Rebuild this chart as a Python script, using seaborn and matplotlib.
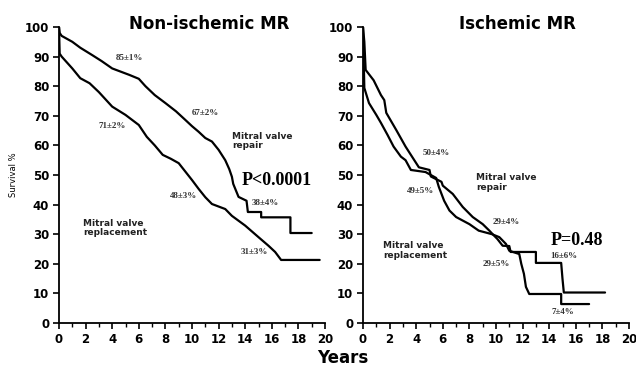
import numpy as np
import pandas as pd
import matplotlib
matplotlib.use("Agg")
import matplotlib.pyplot as plt
import seaborn as sns
from matplotlib.ticker import MultipleLocator

# Non-ischemic MR: survival curves
non_rep_t = [0, 0.05, 0.2, 1.0, 1.6, 2.5, 3.2, 4.0, 5.3, 6.0, 6.5, 7.2, 8.0, 8.8, 9.5, 10.0,
             10.5, 11.0, 11.5, 12.0, 12.5, 12.8, 13.0, 13.1, 13.5, 14.1, 14.2, 15.2, 15.2,
             17.4, 17.4, 19.0]
non_rep_v = [100, 98, 97, 95, 93, 90.5, 88.5, 86, 83.8, 82.5, 80, 77, 74.3, 71.5, 68.6, 66.5,
             64.6, 62.5, 61.3, 58.5, 55, 52, 49.4, 47, 42.6, 41.3, 37.5, 37.5, 35.7,
             35.7, 30.4, 30.4]
non_repl_t = [0, 0.05, 0.2, 1.0, 1.6, 2.3, 3.0, 4.0, 5.0, 6.0, 6.6, 7.2, 7.8, 8.4, 9.0, 10.0,
              10.5, 11.0, 11.5, 12.5, 13.0, 14.0, 15.0, 15.75, 16.25, 16.7, 17.0, 19.6]
non_repl_v = [100, 91, 90, 86, 82.7, 81, 78, 73.1, 70.3, 66.9, 62.9, 60, 56.8, 55.5, 54, 48.3,
              45.3, 42.5, 40.2, 38.5, 36.2, 32.9, 29, 26.1, 24, 21.3, 21.3, 21.3]

# Ischemic MR
isc_rep_t = [0, 0.1, 0.2, 0.8, 1.35, 1.6, 1.75, 2.5, 3.2, 4.0, 4.2, 5.0, 5.1, 5.9, 6.0, 6.75,
             7.5, 8.25, 9.0, 9.5, 9.75, 10.1, 10.5, 11.0, 11.1, 13.0, 13.0, 14.9, 15.0, 15.1, 18.2]
isc_rep_v = [100, 95, 85.5, 82, 77, 75.3, 71, 65.2, 59.6, 54, 52.6, 51.7, 49.5, 47.7, 46.4, 43.6,
             39.2, 35.8, 33.4, 31.2, 30, 28.4, 26.1, 26, 24, 24, 20.3, 20.3, 14.9, 10.3, 10.3]
isc_repl_t = [0, 0.1, 0.45, 1.0, 1.35, 1.85, 2.3, 2.85, 3.2, 3.6, 4.7, 5.5, 5.7, 6.1, 6.5, 7.0,
              8.0, 8.7, 9.7, 10.25, 10.75, 11.0, 11.75, 11.9, 12.1, 12.25, 12.5, 14.9, 14.9, 17.0]
isc_repl_v = [100, 79.4, 74.3, 70.3, 67.6, 63.5, 59.6, 56.2, 55, 51.7, 51, 49, 46, 41.3, 38, 35.8,
              33.4, 31.2, 30, 29, 26.7, 24.4, 23.3, 20, 16.6, 12.2, 9.8, 9.8, 6.4, 6.4]

sns.set_style("ticks")
plt.rcParams["font.family"] = ["DejaVu Sans"]
plt.rcParams["text.color"] = "black"
plt.rcParams["xtick.color"] = "black"
plt.rcParams["ytick.color"] = "black"
plt.rcParams["axes.labelcolor"] = "black"
plt.rcParams["axes.edgecolor"] = "black"

fig = plt.figure(figsize=(6.36, 3.68), dpi=100)
ax1 = fig.add_axes([59 / 636, 45 / 368, 266 / 636, 296 / 368])
ax2 = fig.add_axes([363 / 636, 45 / 368, 266 / 636, 296 / 368])


def draw_curve(ax, t, v):
    d = pd.DataFrame({"t": t, "v": v})
    sns.lineplot(data=d, x="t", y="v", ax=ax, color="black", lw=1.6,
                 estimator=None, sort=False)


draw_curve(ax1, non_rep_t, non_rep_v)
draw_curve(ax1, non_repl_t, non_repl_v)
draw_curve(ax2, isc_rep_t, isc_rep_v)
draw_curve(ax2, isc_repl_t, isc_repl_v)

for ax in (ax1, ax2):
    ax.set_xlim(0, 20)
    ax.set_ylim(0, 100)
    ax.xaxis.set_major_locator(MultipleLocator(2))
    ax.xaxis.set_minor_locator(MultipleLocator(1))
    ax.yaxis.set_major_locator(MultipleLocator(10))
    ax.tick_params(which="major", length=4, width=1.2, labelsize=8.5, pad=3)
    ax.tick_params(which="minor", length=3, width=1.0)
    for lab in ax.get_xticklabels() + ax.get_yticklabels():
        lab.set_fontweight("bold")
    for s in ("left", "bottom"):
        ax.spines[s].set_linewidth(1.3)
    sns.despine(ax=ax)
    ax.set_xlabel("")
    ax.set_ylabel("")

ax1.set_ylabel("Survival %", fontsize=6, labelpad=5)

ax1.set_title("Non-ischemic MR", fontsize=12, fontweight="bold", x=0.565, y=0.965)
ax2.set_title("Ischemic MR", fontsize=12, fontweight="bold", x=0.58, y=0.965)
fig.text(343 / 636, 1 - 358 / 368, "Years", ha="center", va="center",
         fontsize=12, fontweight="bold")

serif = dict(family=["Liberation Serif", "DejaVu Serif"], fontsize=6.5,
             fontweight="bold", ha="center", va="center", color="#333333")
sans = dict(fontsize=6.5, fontweight="bold", ha="left", va="center",
            linespacing=1.05, color="#222222")

ax1.text(5.3, 89.5, "85±1%", **serif)
ax1.text(11.0, 71, "67±2%", **serif)
ax1.text(4.0, 66.5, "71±2%", **serif)
ax1.text(9.4, 43, "48±3%", **serif)
ax1.text(15.5, 40.5, "38±4%", **serif)
ax1.text(14.7, 24, "31±3%", **serif)
ax1.text(13.0, 61.5, "Mitral valve\nrepair", **sans)
ax1.text(1.8, 32, "Mitral valve\nreplacement", **sans)
ax1.text(13.7, 48, "P<0.0001", family=["Liberation Serif", "DejaVu Serif"],
         fontsize=13, fontweight="bold", ha="left", va="center")

ax2.text(5.5, 57.5, "50±4%", **serif)
ax2.text(4.3, 44.5, "49±5%", **serif)
ax2.text(10.8, 34, "29±4%", **serif)
ax2.text(10.0, 20, "29±5%", **serif)
ax2.text(15.1, 22.6, "16±6%", **serif)
ax2.text(15.0, 3.8, "7±4%", **serif)
ax2.text(8.5, 47.5, "Mitral valve\nrepair", **sans)
ax2.text(1.5, 24.5, "Mitral valve\nreplacement", **sans)
ax2.text(14.1, 28, "P=0.48", family=["Liberation Serif", "DejaVu Serif"],
         fontsize=13, fontweight="bold", ha="left", va="center")

fig.savefig("out.png", dpi=100)
